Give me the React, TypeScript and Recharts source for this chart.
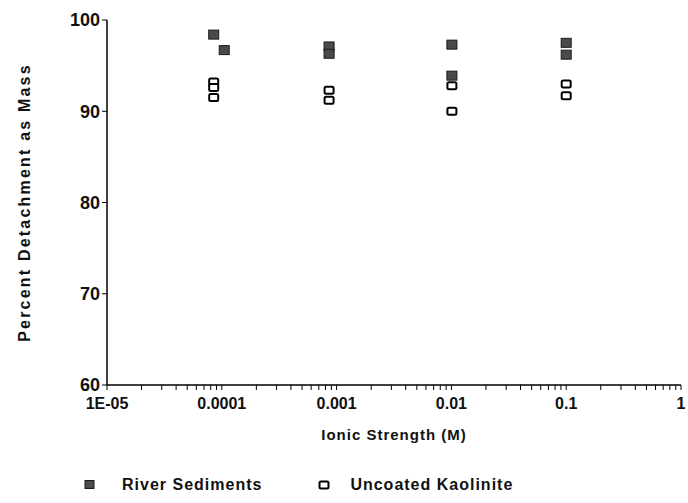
import React from 'react';
import { ScatterChart, Scatter, XAxis, YAxis, Legend } from 'recharts';

// River Sediments (filled squares)
const riverX = [8.5e-5, 1.05e-4, 8.6e-4, 8.6e-4, 0.0101, 0.0101, 0.1, 0.1];
const riverY = [98.4, 96.7, 97.1, 96.3, 97.3, 93.9, 97.5, 96.2];
// Uncoated Kaolinite (open squares)
const kaolX = [8.5e-5, 8.5e-5, 8.5e-5, 8.6e-4, 8.6e-4, 0.0101, 0.0101, 0.1, 0.1];
const kaolY = [93.2, 92.6, 91.5, 92.3, 91.2, 92.8, 90.0, 93.0, 91.7];

const majorTicks = [1e-5, 1e-4, 1e-3, 1e-2, 1e-1, 1];
const majorLabels = ['1E-05', '0.0001', '0.001', '0.01', '0.1', '1'];
const minorMultipliers = [2, 3, 4, 5, 6, 7, 8, 9];
const yTicks = [60, 70, 80, 90, 100];

const riverData = riverX.map((x, i) => ({ x, y: riverY[i] }));
const kaolData = kaolX.map((x, i) => ({ x, y: kaolY[i] }));

const xTicks: number[] = [];
majorTicks.forEach((t, i) => {
  xTicks.push(t);
  if (i < majorTicks.length - 1) minorMultipliers.forEach((m) => xTicks.push(t * m));
});

const fmtX = (v: number) => {
  const idx = majorTicks.findIndex((t) => Math.abs(Math.log10(t) - Math.log10(v)) < 1e-6);
  return idx >= 0 ? majorLabels[idx] : '';
};

const FONT = '"Liberation Sans", Arial, Helvetica, sans-serif';

const FilledSquare = (p: any) => (
  <rect x={p.cx - 5} y={p.cy - 4.5} width={10} height={9} fill="#4a4a4a" stroke="#1a1a1a" strokeWidth={1} />
);
const OpenSquare = (p: any) => (
  <rect x={p.cx - 4.5} y={p.cy - 3.5} width={9} height={7} rx={1.5} fill="#fff" stroke="#000" strokeWidth={2} />
);

const XTitle = (props: any) => {
  const vb = props.viewBox;
  return (
    <text x={vb.x + vb.width / 2} y={vb.y + 49} textAnchor="middle" dominantBaseline="central"
      fontFamily={FONT} fontWeight="bold" fontSize={15} letterSpacing={1} fill="#111">
      Ionic Strength (M)
    </text>
  );
};

const YTitle = (props: any) => {
  const vb = props.viewBox;
  const cx = 24;
  const cy = vb.y + vb.height / 2;
  return (
    <text x={cx} y={cy} transform={`rotate(-90 ${cx} ${cy})`} textAnchor="middle" dominantBaseline="central"
      fontFamily={FONT} fontWeight="bold" fontSize={16} letterSpacing={2.2} fill="#111">
      Percent Detachment as Mass
    </text>
  );
};

const LegendContent = () => (
  <div style={{ display: 'flex', alignItems: 'center', height: 30, paddingLeft: 84, fontFamily: FONT, fontWeight: 'bold', fontSize: 16, letterSpacing: 1, color: '#111' }}>
    <svg width={12} height={12} style={{ marginRight: 26 }}>
      <rect x={1} y={1.5} width={9} height={8} fill="#4a4a4a" stroke="#1a1a1a" strokeWidth={1} />
    </svg>
    <span>River Sediments</span>
    <svg width={12} height={12} style={{ marginLeft: 56, marginRight: 20 }}>
      <rect x={1.5} y={2.5} width={9} height={7} rx={1.5} fill="#fff" stroke="#000" strokeWidth={2} />
    </svg>
    <span>Uncoated Kaolinite</span>
  </div>
);

export default function App() {
  return (
    <div style={{ position: 'absolute', left: 0, top: 0, background: '#fff' }}>
      <ScatterChart width={688} height={503} margin={{ top: 20, right: 7, bottom: 3, left: 0 }}>
        <XAxis
          dataKey="x"
          type="number"
          scale="log"
          domain={[1e-5, 1]}
          allowDataOverflow
          ticks={xTicks}
          interval={0}
          tickFormatter={fmtX}
          tickSize={5}
          tickMargin={8}
          height={85}
          axisLine={{ stroke: '#000', strokeWidth: 1.5 }}
          tickLine={{ stroke: '#000', strokeWidth: 1 }}
          tick={{ fontFamily: FONT, fontWeight: 'bold', fontSize: 16, fill: '#111' }}
          label={<XTitle />}
        />
        <XAxis
          xAxisId="top"
          orientation="top"
          type="number"
          scale="log"
          domain={[1e-5, 1]}
          allowDataOverflow
          tick={false}
          tickLine={false}
          height={0}
          axisLine={{ stroke: '#000', strokeWidth: 2 }}
        />
        <YAxis
          dataKey="y"
          type="number"
          domain={[60, 100]}
          ticks={yTicks}
          interval={0}
          tickSize={5}
          width={107}
          axisLine={{ stroke: '#000', strokeWidth: 1.5 }}
          tickLine={{ stroke: '#000', strokeWidth: 1 }}
          tick={{ fontFamily: FONT, fontWeight: 'bold', fontSize: 18, fill: '#111' }}
          label={<YTitle />}
        />
        <YAxis
          yAxisId="right"
          orientation="right"
          type="number"
          domain={[60, 100]}
          tick={false}
          tickLine={false}
          width={0}
          axisLine={{ stroke: '#000', strokeWidth: 1.5 }}
        />
        <Legend verticalAlign="bottom" height={30} content={<LegendContent />} />
        <Scatter name="River Sediments" data={riverData} shape={FilledSquare} isAnimationActive={false} />
        <Scatter name="Uncoated Kaolinite" data={kaolData} shape={OpenSquare} isAnimationActive={false} />
      </ScatterChart>
    </div>
  );
}
